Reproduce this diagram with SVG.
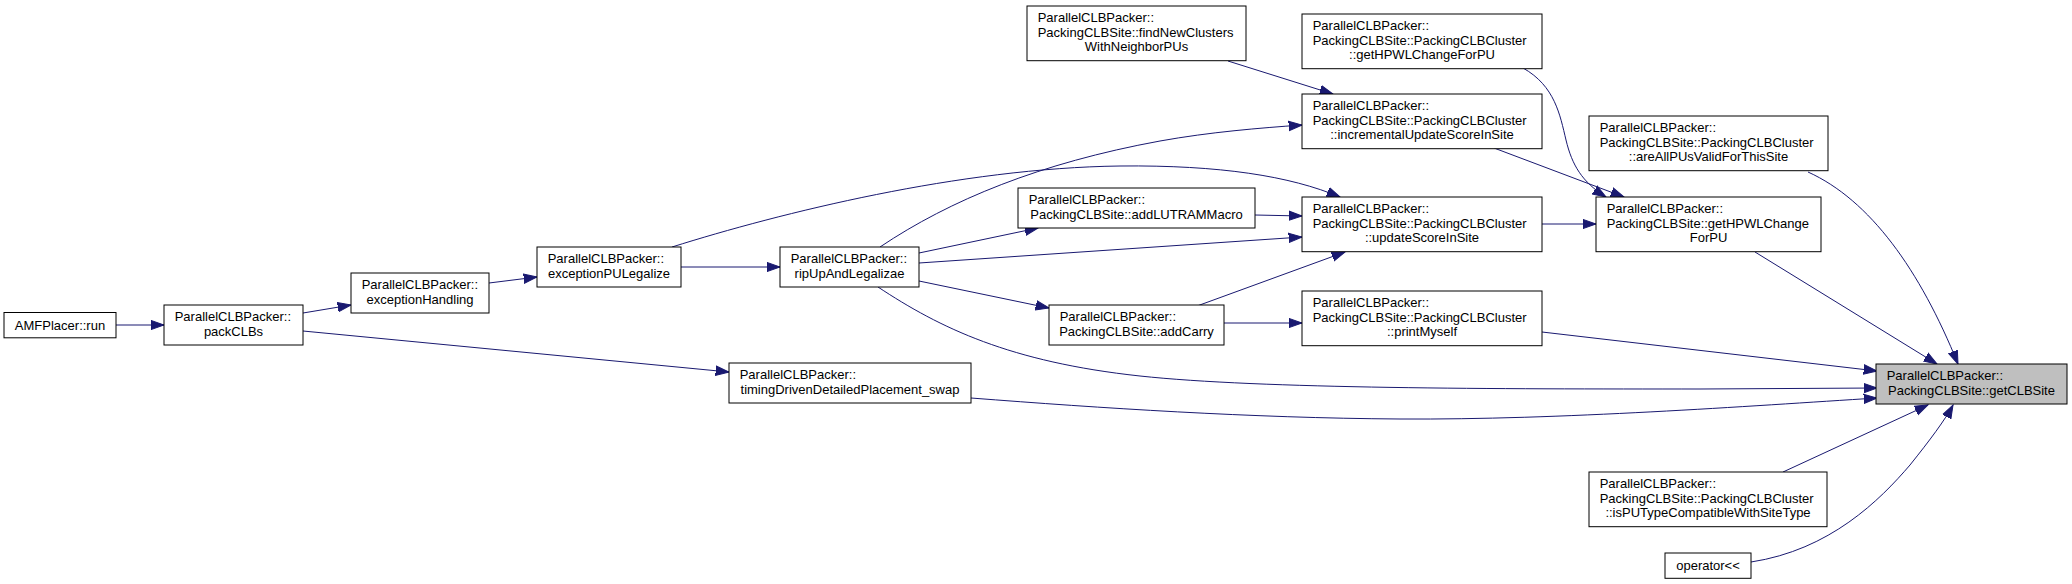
<svg xmlns="http://www.w3.org/2000/svg" width="2072" height="584" viewBox="0 0 2072 584">
<style>
.node rect{fill:#fff;stroke:#000;stroke-width:1}
.node.root rect{fill:#bfbfbf}
text{font-family:"Liberation Sans",Arial,Helvetica,sans-serif;font-size:13px;fill:#000}
.c{text-anchor:middle}
.edges path{fill:none;stroke:#191970;stroke-width:1;marker-end:url(#ah)}
</style>
<defs>
<marker id="ah" markerUnits="userSpaceOnUse" viewBox="0 -6 15 12" refX="13.3" refY="0" markerWidth="15" markerHeight="12" orient="auto">
<path d="M0,-4.7 L13.3,0 L0,4.7 Z" fill="#191970" stroke="#191970" stroke-width="1"/>
</marker>
</defs>
<rect width="2072" height="584" fill="#fff"/>
<g class="edges">
<path d="M116,325 L164,325"/>
<path d="M303,313 L351,305"/>
<path d="M303,331 L729,372"/>
<path d="M489,283 L537,277"/>
<path d="M681,267 L780,267"/>
<path d="M672,247 C780,213 960,168 1120,166 C1220,165 1290,176 1340,197"/>
<path d="M880,247 C950,200 1040,163 1160,141 C1210,132 1260,128 1302,125"/>
<path d="M919,253 L1038,228"/>
<path d="M919,263 L1302,237"/>
<path d="M919,281 L1049,308"/>
<path d="M878,287 C940,328 1010,362 1140,376 C1260,389 1500,389 1700,389 L1877,388"/>
<path d="M1255,215 L1302,216"/>
<path d="M1197,306 L1345,252"/>
<path d="M1224,323 L1302,323"/>
<path d="M1228,61 L1333,94"/>
<path d="M1523,68 C1555,86 1560,115 1566,140 C1572,165 1582,182 1606,197"/>
<path d="M1494,148 L1624,197"/>
<path d="M1542,224 L1596,224"/>
<path d="M1808,172 C1870,200 1920,270 1958,364"/>
<path d="M1755,252 L1937,364"/>
<path d="M1542,332 L1877,371"/>
<path d="M1783,472 L1928,405"/>
<path d="M1751,562 C1830,550 1880,500 1910,465 C1930,440 1945,420 1953,405"/>
<path d="M971,398 C1100,408 1250,418 1400,419 C1560,420 1750,406 1877,398"/>
</g>
<g id="n1" class="node"><rect x="4" y="312.5" width="112" height="25.3"/><text class="c" x="60" y="329.5">AMFPlacer::run</text></g>
<g id="n2" class="node"><rect x="164" y="305" width="139" height="40"/><text x="174.7" y="321">ParallelCLBPacker::</text><text class="c" x="233.5" y="335.7">packCLBs</text></g>
<g id="n3" class="node"><rect x="351" y="273" width="138" height="40"/><text x="361.7" y="289">ParallelCLBPacker::</text><text class="c" x="420" y="303.7">exceptionHandling</text></g>
<g id="n4" class="node"><rect x="537" y="247" width="144" height="40"/><text x="547.7" y="263">ParallelCLBPacker::</text><text class="c" x="609" y="277.7">exceptionPULegalize</text></g>
<g id="n5" class="node"><rect x="780" y="247" width="139" height="40"/><text x="790.7" y="263">ParallelCLBPacker::</text><text class="c" x="849.5" y="277.7">ripUpAndLegalizae</text></g>
<g id="n6" class="node"><rect x="729" y="363" width="242" height="40"/><text x="739.7" y="379">ParallelCLBPacker::</text><text class="c" x="850" y="393.7">timingDrivenDetailedPlacement_swap</text></g>
<g id="n7" class="node"><rect x="1027" y="6" width="219" height="54.7"/><text x="1037.7" y="22">ParallelCLBPacker::</text><text x="1037.7" y="36.7">PackingCLBSite::findNewClusters</text><text class="c" x="1136.5" y="51.3">WithNeighborPUs</text></g>
<g id="n8" class="node"><rect x="1302" y="14" width="240" height="54.7"/><text x="1312.7" y="30">ParallelCLBPacker::</text><text x="1312.7" y="44.7">PackingCLBSite::PackingCLBCluster</text><text class="c" x="1422" y="59.3">::getHPWLChangeForPU</text></g>
<g id="n9" class="node"><rect x="1302" y="94" width="240" height="54.7"/><text x="1312.7" y="110">ParallelCLBPacker::</text><text x="1312.7" y="124.7">PackingCLBSite::PackingCLBCluster</text><text class="c" x="1422" y="139.3">::incrementalUpdateScoreInSite</text></g>
<g id="n10" class="node"><rect x="1018" y="188" width="237" height="40"/><text x="1028.7" y="204">ParallelCLBPacker::</text><text class="c" x="1136.5" y="218.7">PackingCLBSite::addLUTRAMMacro</text></g>
<g id="n11" class="node"><rect x="1302" y="197" width="240" height="54.7"/><text x="1312.7" y="213">ParallelCLBPacker::</text><text x="1312.7" y="227.7">PackingCLBSite::PackingCLBCluster</text><text class="c" x="1422" y="242.3">::updateScoreInSite</text></g>
<g id="n12" class="node"><rect x="1049" y="305" width="175" height="40"/><text x="1059.7" y="321">ParallelCLBPacker::</text><text class="c" x="1136.5" y="335.7">PackingCLBSite::addCarry</text></g>
<g id="n13" class="node"><rect x="1302" y="291" width="240" height="54.7"/><text x="1312.7" y="307">ParallelCLBPacker::</text><text x="1312.7" y="321.7">PackingCLBSite::PackingCLBCluster</text><text class="c" x="1422" y="336.3">::printMyself</text></g>
<g id="n14" class="node"><rect x="1589" y="116" width="239" height="54.7"/><text x="1599.7" y="132">ParallelCLBPacker::</text><text x="1599.7" y="146.7">PackingCLBSite::PackingCLBCluster</text><text class="c" x="1708.5" y="161.3">::areAllPUsValidForThisSite</text></g>
<g id="n15" class="node"><rect x="1596" y="197" width="225" height="54.7"/><text x="1606.7" y="213">ParallelCLBPacker::</text><text x="1606.7" y="227.7">PackingCLBSite::getHPWLChange</text><text class="c" x="1708.5" y="242.3">ForPU</text></g>
<g id="n16" class="node root"><rect x="1876" y="364" width="191" height="40"/><text x="1886.7" y="380">ParallelCLBPacker::</text><text class="c" x="1971.5" y="394.7">PackingCLBSite::getCLBSite</text></g>
<g id="n17" class="node"><rect x="1589" y="472" width="238" height="54.7"/><text x="1599.7" y="488">ParallelCLBPacker::</text><text x="1599.7" y="502.7">PackingCLBSite::PackingCLBCluster</text><text class="c" x="1708" y="517.3">::isPUTypeCompatibleWithSiteType</text></g>
<g id="n18" class="node"><rect x="1665" y="553" width="86" height="25.3"/><text class="c" x="1708" y="570">operator&lt;&lt;</text></g>
</svg>
